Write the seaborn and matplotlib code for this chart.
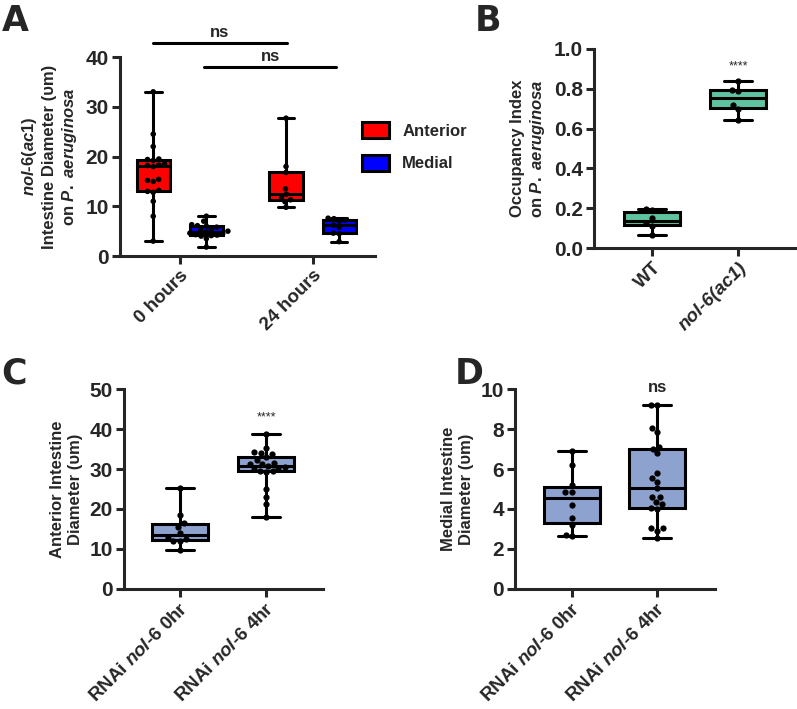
import os
import matplotlib
matplotlib.use('Agg')
import matplotlib.pyplot as plt
import pandas as pd
import seaborn as sns
from matplotlib.patches import Patch
from matplotlib.font_manager import FontProperties

sns.set_style('ticks')
plt.rcParams['font.family'] = 'Liberation Sans'
plt.rcParams['mathtext.fontset'] = 'custom'
plt.rcParams['mathtext.rm'] = 'Liberation Sans:bold'
plt.rcParams['mathtext.it'] = 'Liberation Sans:italic:bold'
plt.rcParams['mathtext.bf'] = 'Liberation Sans:bold'

FONT_DIR = '/usr/share/fonts/truetype/liberation/'


def font(size, italic=False):
    path = FONT_DIR + ('LiberationSans-BoldItalic.ttf' if italic else 'LiberationSans-Bold.ttf')
    if os.path.exists(path):
        return FontProperties(fname=path, size=size)
    return FontProperties(family='Liberation Sans', weight='bold', size=size,
                          style='italic' if italic else 'normal')


# Panel A - nol-6(ac1) intestine diameter, anterior vs medial
times = ['0 hours', '24 hours']
regions = ['Anterior', 'Medial']
ant_0h = [3, 8, 11, 12.8, 13, 13.2, 15, 15.2, 15.4, 18, 18.2, 18.3, 18.5, 19.2, 19.4, 19.5, 22, 24.5, 33]
med_0h = [1.8, 3.5, 4.0, 4.1, 4.2, 4.3, 4.5, 4.6, 4.8, 5.0, 5.2, 5.4, 5.8, 6.0, 6.1, 6.3, 7.0, 8.0]
ant_24h = [9.8, 10.9, 11.3, 11.8, 12.4, 13.5, 16.8, 18.0, 27.7]
med_24h = [2.9, 4.5, 4.6, 5.8, 6.2, 7.0, 7.2, 7.5, 7.6]

# Panel B - occupancy index
b_groups = ['WT', 'nol-6(ac1)']
occ_wt = [0.065, 0.11, 0.125, 0.15, 0.19, 0.196]
occ_nol6 = [0.643, 0.70, 0.72, 0.79, 0.795, 0.839]

# Panels C/D - RNAi nol-6
rnai_groups = ['RNAi $\\it{nol}$-6 0hr', 'RNAi $\\it{nol}$-6 4hr']
ant_rnai_0 = [9.75, 12.0, 12.1, 12.5, 12.8, 14.0, 15.5, 16.4, 18.5, 25.3]
ant_rnai_4 = [18.1, 21.3, 23.0, 25.0, 29.2, 29.5, 29.6, 30.0, 30.3, 30.5, 30.7, 31.2, 31.3, 31.5,
              32.2, 33.1, 33.7, 34.0, 34.3, 35.2, 38.7]
med_rnai_0 = [2.65, 2.7, 3.2, 3.55, 4.2, 4.85, 4.85, 5.2, 6.2, 6.9]
med_rnai_4 = [2.57, 2.92, 3.07, 3.07, 4.0, 4.03, 4.23, 4.37, 4.62, 4.62, 5.03, 5.35, 5.53, 5.78,
              6.78, 7.02, 7.12, 7.87, 8.07, 9.2, 9.2]

red, blue, green, slate = '#ff0000', '#0000ff', '#5ec39e', '#8ea2d0'
LW = 2.2
FS = 12  # label font size

df_a = pd.DataFrame({
    'time': [times[0]] * (len(ant_0h) + len(med_0h)) + [times[1]] * (len(ant_24h) + len(med_24h)),
    'region': ['Anterior'] * len(ant_0h) + ['Medial'] * len(med_0h) + ['Anterior'] * len(ant_24h) + ['Medial'] * len(med_24h),
    'value': ant_0h + med_0h + ant_24h + med_24h})


def two_groups(names, a, b):
    return pd.DataFrame({'group': [names[0]] * len(a) + [names[1]] * len(b), 'value': a + b})


df_b = two_groups(b_groups, occ_wt, occ_nol6)
df_c = two_groups(rnai_groups, ant_rnai_0, ant_rnai_4)
df_d = two_groups(rnai_groups, med_rnai_0, med_rnai_4)

fig = plt.figure(figsize=(7.97, 7.09), dpi=100)
ax_a = fig.add_axes([0.1506, 0.6389, 0.3199, 0.2807])
ax_b = fig.add_axes([0.7453, 0.6502, 0.2547, 0.2807])
ax_c = fig.add_axes([0.1556, 0.1693, 0.2497, 0.2820])
ax_d = fig.add_axes([0.6462, 0.1693, 0.2509, 0.2820])

box_kw = dict(whis=(0, 100), showfliers=False, linecolor='black', linewidth=LW, saturation=1)

# A
sns.boxplot(data=df_a, x='time', y='value', hue='region', order=times, hue_order=regions,
            palette=[red, blue], width=0.8, gap=0.375, legend=False, ax=ax_a, **box_kw)
sns.swarmplot(data=df_a, x='time', y='value', hue='region', order=times, hue_order=regions,
              palette=['black', 'black'], dodge=True, size=4, legend=False, ax=ax_a)

# B, C, D
for ax, df, col in [(ax_b, df_b, green), (ax_c, df_c, slate), (ax_d, df_d, slate)]:
    sns.boxplot(data=df, x='group', y='value', color=col, width=0.65, ax=ax, **box_kw)
    sns.swarmplot(data=df, x='group', y='value', color='black', size=4.5, ax=ax)

limits = {ax_a: ((-0.45, 1.47), (0, 40), range(0, 41, 10), '{:.0f}'),
          ax_b: ((-0.674, 1.686), (0, 1.0), [0, .2, .4, .6, .8, 1.0], '{:.1f}'),
          ax_c: ((-0.65, 1.66), (0, 50), range(0, 51, 10), '{:.0f}'),
          ax_d: ((-0.67, 1.68), (0, 10), range(0, 11, 2), '{:.0f}')}
for ax, (xl, yl, yt, fmt) in limits.items():
    ax.set_xlim(*xl)
    ax.set_ylim(*yl)
    ax.set_yticks(list(yt))
    ax.set_yticklabels([fmt.format(v) for v in yt], fontproperties=font(15))
    sns.despine(ax=ax)
    for s in ['left', 'bottom']:
        ax.spines[s].set_linewidth(LW)
    ax.tick_params(width=LW, length=6, pad=2)
    ax.set_xlabel('')
    for lab in ax.get_xticklabels():
        lab.set_fontproperties(font(13.5))
        lab.set_rotation(45)
        lab.set_ha('right')
        lab.set_rotation_mode('anchor')
    for c in ax.collections:
        c.set_clip_on(False)

ax_b.get_xticklabels()[1].set_fontproperties(font(13.5, italic=True))

ax_a.set_ylabel('$\\it{nol}$-$\\it{6(ac1)}$\nIntestine Diameter (υm)\non $\\it{P.\\ aeruginosa}$',
                fontproperties=font(FS), labelpad=5)
ax_b.set_ylabel('Occupancy Index\non $\\it{P.\\ aeruginosa}$', fontproperties=font(FS), labelpad=5)
ax_c.set_ylabel('Anterior Intestine\nDiameter (υm)', fontproperties=font(FS), labelpad=5)
ax_d.set_ylabel('Medial Intestine\nDiameter (υm)', fontproperties=font(FS), labelpad=5)

# significance marks
ax_a.plot([-0.2, 0.81], [42.8, 42.8], color='black', lw=LW, clip_on=False)
ax_a.plot([0.18, 1.18], [38.0, 38.0], color='black', lw=LW, clip_on=False)
ax_a.text(0.3, 43.4, 'ns', ha='center', va='bottom', fontproperties=font(FS))
ax_a.text(0.68, 38.6, 'ns', ha='center', va='bottom', fontproperties=font(FS))
ax_d.text(1, 10.1, 'ns', ha='center', va='center', fontproperties=font(FS))
ax_b.text(1, 0.91, '****', ha='center', va='center', fontsize=9, family='Liberation Sans')
ax_c.text(1, 43, '****', ha='center', va='center', fontsize=9, family='Liberation Sans')

# legend for A
handles = [Patch(facecolor=red, edgecolor='black', linewidth=LW, label='Anterior'),
           Patch(facecolor=blue, edgecolor='black', linewidth=LW, label='Medial')]
fig.legend(handles=handles, loc='center left', bbox_to_anchor=(0.444, 0.793), frameon=False,
           prop=font(FS), handlelength=1.6, handleheight=1.1, borderpad=0, labelspacing=0.95,
           handletextpad=0.8)

# panel letters
for letter, x, y in [('A', 0.002, 0.995), ('B', 0.596, 0.995), ('C', 0.002, 0.497), ('D', 0.571, 0.497)]:
    fig.text(x, y, letter, fontsize=25, fontweight='bold', family='DejaVu Sans', va='top', ha='left')

fig.savefig('out.png', dpi=100)
